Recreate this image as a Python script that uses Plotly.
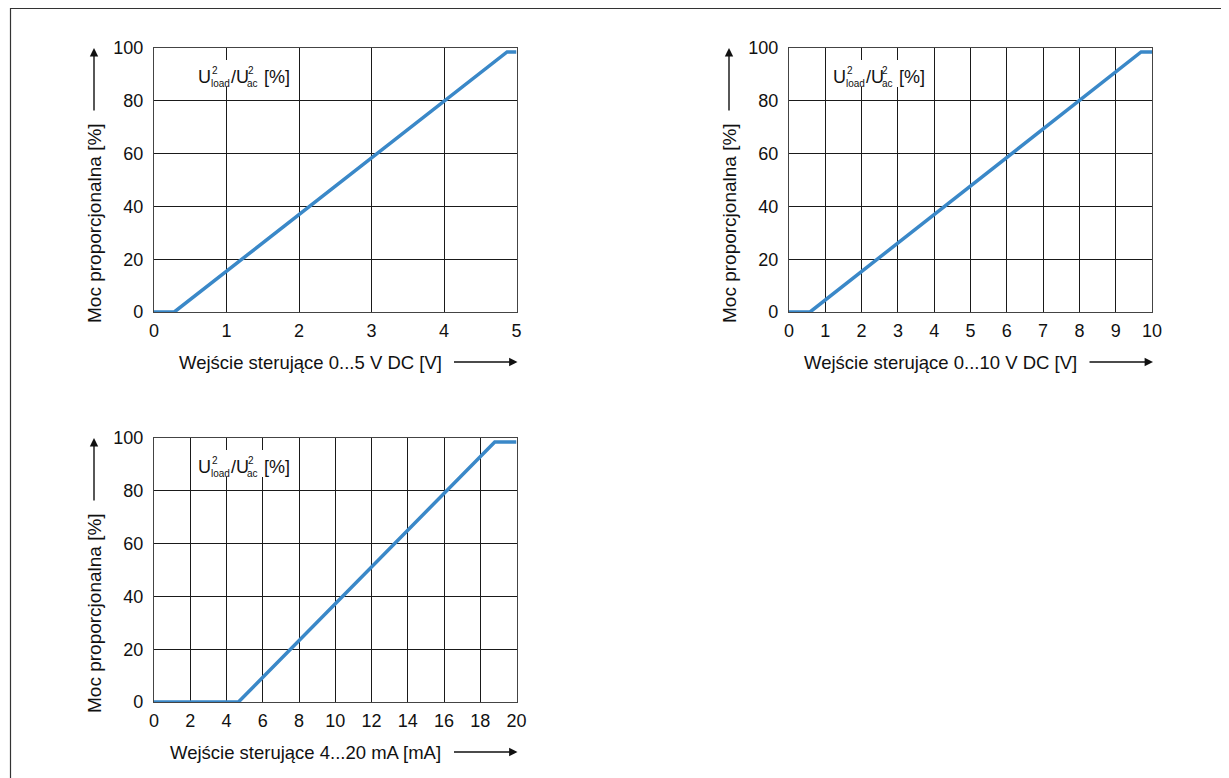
import plotly.graph_objects as go

W, H = 1229, 778
OFF = 8  # page body margin of the html page
FW, FH = W - OFF, H - OFF

# ---- data ----
x_5v = [0, 0.28, 4.87, 5]
y_5v = [0, 0, 98.5, 98.5]
x_10v = [0, 0.58, 9.7, 10]
y_10v = [0, 0, 98.5, 98.5]
x_ma = [0, 4.66, 18.8, 20]
y_ma = [0, 0, 98.5, 98.5]

x_titles = ["Wejście sterujące 0...5 V DC [V]",
            "Wejście sterujące 0...10 V DC [V]",
            "Wejście sterujące 4...20 mA [mA]"]
y_title = "Moc proporcjonalna [%]"
x_ranges = [[0, 5], [0, 10], [0, 20]]
x_dticks = [1, 1, 2]
y_ticks = [0, 20, 40, 60, 80, 100]

# panel pixel boxes (page coords): left, top, right, bottom
panels = [(154, 48, 516.5, 312), (789, 48, 1152, 312), (154, 438, 516.5, 702)]
# x-title centres (page pixels)
x_title_cx = [310, 940, 305]

LINE_COLOR = "#3a88c8"
FONT = "Liberation Sans, Arial, sans-serif"

def px(x):
    return (x - OFF) / FW

def py(y):
    return 1 - (y - OFF) / FH

fig = go.Figure()
series = [(x_5v, y_5v), (x_10v, y_10v), (x_ma, y_ma)]
annotations = []
shapes = []

for i, ((xs, ys), (l, t, r, b)) in enumerate(zip(series, panels)):
    n = "" if i == 0 else str(i + 1)
    fig.add_trace(go.Scatter(x=xs, y=ys, mode="lines",
                             line=dict(color=LINE_COLOR, width=3.5),
                             cliponaxis=False, showlegend=False,
                             xaxis="x" + n, yaxis="y" + n))
    axis_common = dict(showline=True, mirror=True, linecolor="#444", linewidth=1.2,
                       showgrid=True, gridcolor="#1a1a1a", gridwidth=1,
                       zeroline=False, ticks="", fixedrange=True, automargin=False,
                       tickfont=dict(size=18, color="#111", family=FONT))
    fig.update_layout(**{
        "xaxis" + n: dict(domain=[px(l), px(r)], range=x_ranges[i],
                          tickmode="linear", tick0=0, dtick=x_dticks[i],
                          anchor="y" + n, ticklabelstandoff=2, **axis_common),
        "yaxis" + n: dict(domain=[py(b), py(t)], range=[0, 100],
                          tickvals=y_ticks, anchor="x" + n,
                          ticklabelstandoff=6, **axis_common),
    })

    # x title
    annotations.append(dict(x=px(x_title_cx[i]), y=py(b + 50.5), xref="paper", yref="paper",
                            text=x_titles[i], showarrow=False,
                            xanchor="center", yanchor="middle",
                            font=dict(size=18.5, color="#111", family=FONT)))
    # x arrow
    annotations.append(dict(x=px(r + 1), y=py(b + 50), xref="paper", yref="paper",
                            text="", showarrow=True, arrowhead=2, arrowsize=1.2,
                            arrowwidth=1.4, arrowcolor="#111", ax=-65, ay=0,
                            standoff=0, startstandoff=0))
    # y title
    annotations.append(dict(x=px(l - 60), y=py(t + 175), xref="paper", yref="paper",
                            text=y_title, showarrow=False, textangle=-90,
                            xanchor="center", yanchor="middle",
                            font=dict(size=19, color="#111", family=FONT)))
    # y arrow
    annotations.append(dict(x=px(l - 60), y=py(t), xref="paper", yref="paper",
                            text="", showarrow=True, arrowhead=2, arrowsize=1.2,
                            arrowwidth=1.4, arrowcolor="#111", ax=0, ay=64,
                            standoff=0, startstandoff=0))

    # label box
    shapes.append(dict(type="rect", xref="paper", yref="paper",
                       x0=px(l + 39), x1=px(l + 142), y0=py(t + 39), y1=py(t + 12),
                       fillcolor="white", line=dict(width=0), layer="above"))
    # (text, dx, dy, size, yanchor)
    pieces = [("U", 43, 29, 18, "middle"),
              ("2", 57, 29, 10, "bottom"), ("load", 56, 29, 10, "top"),
              ("/U", 75.5, 29, 18, "middle"),
              ("2", 92.5, 29, 10, "bottom"), ("ac", 92, 29, 10, "top"),
              ("[%]", 109, 29, 18, "middle")]
    for txt, dx, dy, fs, ya in pieces:
        annotations.append(dict(x=px(l + dx), y=py(t + dy), xref="paper", yref="paper",
                                text=txt, showarrow=False, xanchor="left", yanchor=ya,
                                borderpad=0,
                                font=dict(size=fs, color="#111", family=FONT)))

# outer frame (top and left edges)
shapes.append(dict(type="line", xref="paper", yref="paper",
                   x0=px(10), x1=px(1229), y0=py(8.5), y1=py(8.5),
                   line=dict(color="#333", width=1.2)))
shapes.append(dict(type="line", xref="paper", yref="paper",
                   x0=px(10.5), x1=px(10.5), y0=py(8), y1=py(778),
                   line=dict(color="#333", width=1.2)))

fig.update_layout(width=FW, height=FH,
                  margin=dict(l=0, r=0, t=0, b=0, autoexpand=False),
                  paper_bgcolor="white", plot_bgcolor="white",
                  font=dict(family=FONT, color="#111"),
                  annotations=annotations, shapes=shapes)

fig.write_html("out.html")
